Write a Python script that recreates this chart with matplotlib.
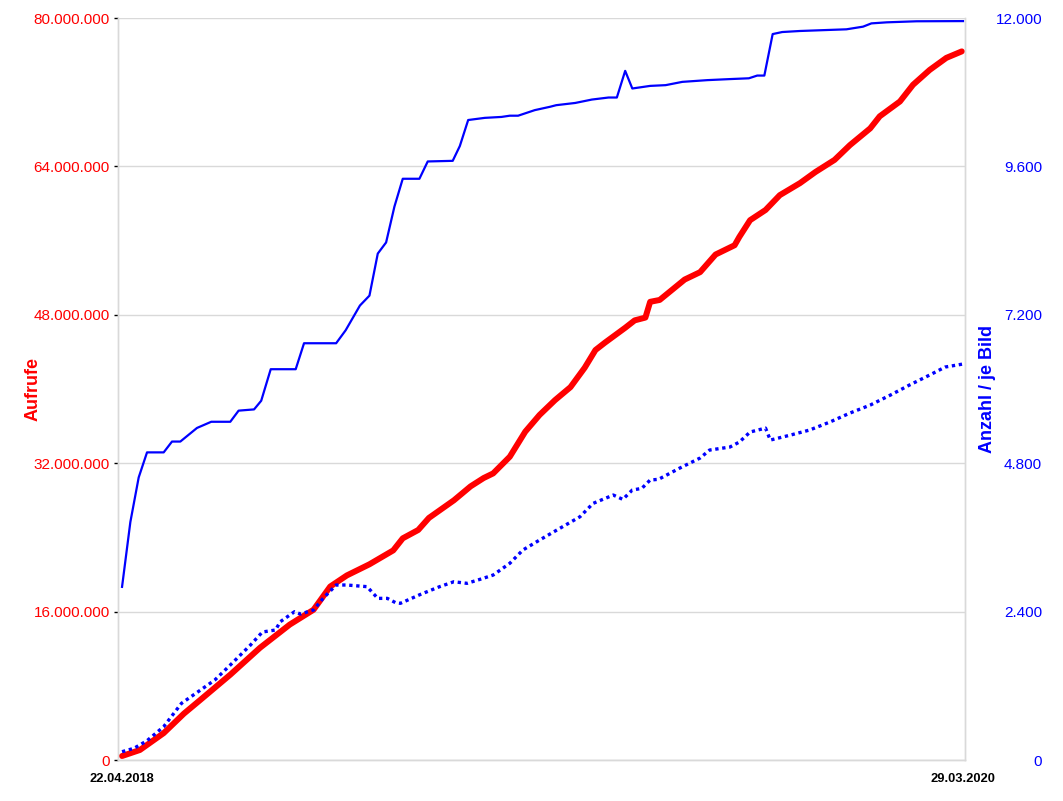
import matplotlib
matplotlib.use("Agg")
import matplotlib.pyplot as plt
import matplotlib.ticker as mticker
import pandas as pd

START = pd.Timestamp("2018-04-22")
END = pd.Timestamp("2020-03-29")

# Anzahl (blue solid, right axis): day offset from start, value
anzahl_days = [0, 7, 14, 21, 35, 42, 49, 63, 75, 91, 98, 111, 117, 125, 146, 153, 180,
               188, 200, 208, 215, 222, 229, 236, 250, 257, 278, 284, 291, 305, 319, 326,
               333, 347, 360, 365, 381, 395, 409, 416, 423, 429, 444, 457, 471, 492, 511,
               527, 534, 540, 547, 555, 570, 609, 623, 630, 643, 668, 707]
anzahl = [2800, 3850, 4570, 4975, 4975, 5150, 5150, 5370, 5470, 5470, 5650, 5670, 5810,
          6320, 6320, 6740, 6740, 6950, 7350, 7510, 8190, 8370, 8950, 9400, 9400, 9680,
          9690, 9930, 10350, 10385, 10400, 10420, 10420, 10510, 10565, 10590, 10626,
          10681, 10714, 10714, 11145, 10860, 10902, 10914, 10967, 10995, 11012, 11025,
          11069, 11069, 11740, 11773, 11790, 11817, 11860, 11913, 11930, 11947, 11950]

# Aufrufe (red, left axis), millions
aufrufe_days = [0, 15, 35, 52, 66, 91, 116, 141, 161, 175, 189, 208, 228, 236, 249, 258,
                279, 293, 304, 312, 326, 339, 351, 364, 377, 389, 398, 406, 423, 431,
                440, 444, 452, 473, 486, 499, 515, 519, 528, 541, 553, 570, 583, 599,
                612, 629, 637, 654, 665, 679, 693, 706]
aufrufe = [0.43, 1.08, 2.9, 5.0, 6.5, 9.2, 12.1, 14.6, 16.2, 18.7, 19.9, 21.1, 22.6, 23.9,
           24.8, 26.1, 28.0, 29.5, 30.4, 30.9, 32.7, 35.4, 37.2, 38.8, 40.2, 42.3, 44.2,
           45.0, 46.6, 47.4, 47.7, 49.4, 49.6, 51.8, 52.6, 54.5, 55.5, 56.4, 58.2, 59.3,
           60.9, 62.2, 63.4, 64.7, 66.3, 68.1, 69.4, 71.0, 72.8, 74.4, 75.7, 76.4]

# je Bild (blue dotted, right axis)
jebild_days = [0, 10, 21, 35, 50, 66, 78, 91, 108, 118, 129, 133, 145, 150, 161, 169,
               180, 189, 206, 215, 223, 230, 234, 251, 267, 279, 290, 301, 312, 326,
               337, 351, 368, 385, 396, 413, 421, 429, 437, 444, 451, 469, 486, 494,
               511, 519, 528, 541, 545, 562, 578, 595, 612, 629, 646, 662, 679, 692, 707]
jebild = [134, 189, 312, 539, 917, 1132, 1294, 1536, 1860, 2070, 2102, 2236, 2398, 2361,
          2426, 2614, 2830, 2830, 2803, 2614, 2614, 2544, 2534, 2679, 2803, 2883, 2857,
          2922, 2991, 3181, 3396, 3557, 3746, 3934, 4150, 4285, 4215, 4366, 4393, 4528,
          4539, 4722, 4884, 5013, 5061, 5142, 5304, 5368, 5174, 5255, 5336, 5465, 5611,
          5740, 5902, 6064, 6226, 6355, 6404]

FONT = "Liberation Sans"
RED = "#ff0000"
BLUE = "#0000ff"
GRID = "#d9d9d9"

def to_dates(days):
    return [START + pd.Timedelta(days=int(d)) for d in days]

fig = plt.figure(figsize=(10.63, 8.01), dpi=100)
ax1 = fig.add_axes([118 / 1063, 1 - 760 / 801, 847 / 1063, 742 / 801])
ax2 = ax1.twinx()

ax1.plot(to_dates(aufrufe_days), [v * 1e6 for v in aufrufe],
         color=RED, lw=4.3, solid_capstyle="round", solid_joinstyle="round", zorder=3)
ax2.plot(to_dates(anzahl_days), anzahl, color=BLUE, lw=1.6, zorder=3)
ax2.plot(to_dates(jebild_days), jebild, color=BLUE, lw=2.4,
         dashes=(1.0, 1.1), zorder=4)

ax1.set_ylim(0, 80_000_000)
ax2.set_ylim(0, 12_000)
ax1.set_xlim(START - pd.Timedelta(days=3.4), START + pd.Timedelta(days=708.7))

fmt_dot = mticker.FuncFormatter(lambda v, p: f"{int(round(v)):,}".replace(",", "."))
ax1.yaxis.set_major_locator(mticker.MultipleLocator(16_000_000))
ax2.yaxis.set_major_locator(mticker.MultipleLocator(2_400))
ax1.yaxis.set_major_formatter(fmt_dot)
ax2.yaxis.set_major_formatter(fmt_dot)

ax1.grid(axis="y", color=GRID, lw=1)
ax1.set_axisbelow(True)

ax1.set_xticks([START, END])
ax1.set_xticklabels(["22.04.2018", "29.03.2020"], fontfamily=FONT,
                    fontweight="bold", fontsize=9.3, color="black")
ax1.tick_params(axis="x", length=0, pad=9)

ax1.tick_params(axis="y", length=3, width=1, color="black", labelcolor=RED,
                labelsize=11, pad=3)
for t in ax1.get_yticklabels():
    t.set_fontfamily(FONT)

ax2.tick_params(axis="y", length=0, labelcolor=BLUE, labelsize=11, pad=55.5)
for t in ax2.get_yticklabels():
    t.set_fontfamily(FONT)
    t.set_horizontalalignment("right")

for ax in (ax1, ax2):
    for s in ax.spines.values():
        s.set_color(GRID)
        s.set_linewidth(1)
    ax.spines["top"].set_visible(False)

ax1.set_ylabel("Aufrufe", color=RED, fontfamily=FONT, fontweight="bold", fontsize=13)
ax1.yaxis.set_label_coords(-76 / 847, 0.5)
ax2.set_ylabel("Anzahl / je Bild", color=BLUE, fontfamily=FONT, fontweight="bold",
               fontsize=13)
ax2.yaxis.set_label_coords(1 + 14 / 847, 0.5)

fig.savefig("out.png", dpi=100)
